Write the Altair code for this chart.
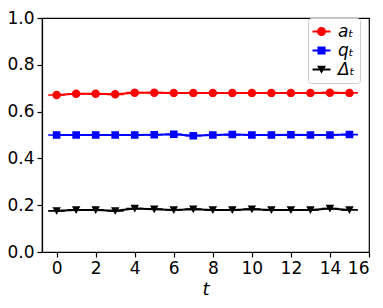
import altair as alt
import pandas as pd

t_vals = list(range(16))
a_vals = [0.671, 0.676, 0.676, 0.674, 0.681, 0.681, 0.680, 0.680, 0.680, 0.680, 0.680, 0.680, 0.680, 0.680, 0.681, 0.680]
q_vals = [0.500, 0.500, 0.500, 0.500, 0.500, 0.501, 0.503, 0.497, 0.500, 0.502, 0.500, 0.500, 0.501, 0.500, 0.500, 0.502]
d_vals = [0.176, 0.180, 0.180, 0.176, 0.186, 0.183, 0.180, 0.183, 0.180, 0.180, 0.183, 0.180, 0.180, 0.180, 0.186, 0.180]
series_names = ["aₜ", "qₜ", "Δₜ"]
series_colors = ["#ff0000", "#0000ff", "#000000"]
x_ticks = list(range(0, 17, 2))
y_ticks = [0.0, 0.2, 0.4, 0.6, 0.8, 1.0]

rows = []
for name, vals in zip(series_names, [a_vals, q_vals, d_vals]):
    for t, v in zip(t_vals, vals):
        rows.append({"t": t, "value": v, "series": name})
df = pd.DataFrame(rows)

line_bar = "M-2,-0.2H2V0.2H-2Z "
shapes = [
    line_bar + "M1,0A1,1 0 1,1 -1,0A1,1 0 1,1 1,0Z",
    line_bar + "M-0.9,-0.9H0.9V0.9H-0.9Z",
    line_bar + "M-1,-0.85L1,-0.85L0,0.95Z",
]

x_enc = alt.X("t:Q", scale=alt.Scale(domain=[-0.75, 16], nice=False, zero=False),
              axis=alt.Axis(values=x_ticks, title="t", titleFontStyle="italic"))
y_enc = alt.Y("value:Q", scale=alt.Scale(domain=[0, 1], nice=False),
              axis=alt.Axis(values=y_ticks, format=".1f", title=None))
color_enc = alt.Color("series:N", scale=alt.Scale(domain=series_names, range=series_colors),
                      legend=alt.Legend(title=None, orient="none", legendX=266, legendY=0,
                                        symbolSize=81, symbolStrokeWidth=0,
                                        labelFontSize=17, labelFontStyle="italic",
                                        labelFont="DejaVu Sans",
                                        rowPadding=1, padding=5, labelOffset=8,
                                        strokeColor="#cccccc", fillColor="white",
                                        cornerRadius=3))
shape_enc = alt.Shape("series:N", scale=alt.Scale(domain=series_names, range=shapes),
                      legend=alt.Legend(title=None))

base = alt.Chart(df)
lines = base.mark_line(strokeWidth=2).encode(x=x_enc, y=y_enc, color=color_enc, detail="series:N")
points = base.mark_point(filled=True, opacity=1, size=72, strokeWidth=0).encode(
    x=x_enc, y=y_enc, color=color_enc, shape=shape_enc)

chart = (lines + points).properties(
    width=327, height=234,
    autosize=alt.AutoSizeParams(type="none"),
    padding={"left": 34, "top": 10, "right": 6, "bottom": 48},
).configure_view(stroke="black", strokeWidth=1.2).configure_axis(
    grid=False, domainColor="black", tickColor="black", labelColor="black",
    titleColor="black", labelFont="DejaVu Sans", titleFont="DejaVu Sans",
    labelFontSize=17, titleFontSize=18, titleFontWeight="normal", tickSize=5,
    domainWidth=1.2, tickWidth=1.2, labelPadding=3,
)

chart.save("out.html", embed_options={"renderer": "svg", "actions": False})
